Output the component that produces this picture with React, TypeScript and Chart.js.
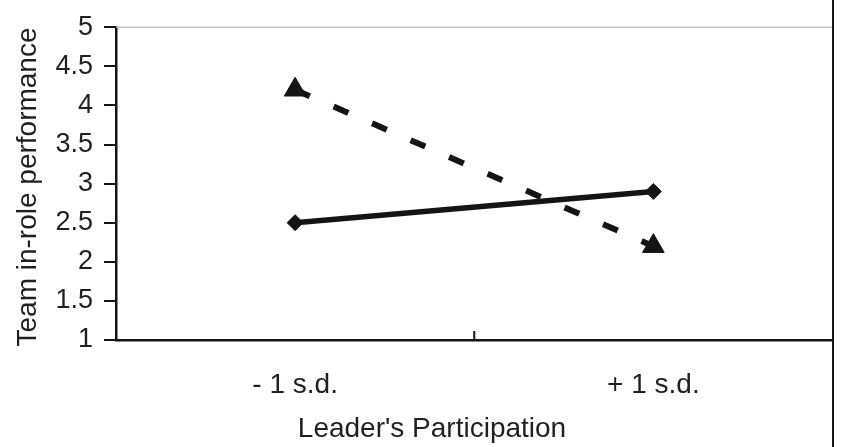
import React, { useEffect, useRef } from "react";
import { Chart, registerables } from "chart.js";

Chart.register(...registerables);

const categories = ["- 1 s.d.", "+ 1 s.d."];
const solidSeries = [2.5, 2.9];
const dashedSeries = [4.2, 2.2];
const yTicks = [1, 1.5, 2, 2.5, 3, 3.5, 4, 4.5, 5];
const xTitle = "Leader's Participation";
const yTitle = "Team in-role performance";

const FONT = "'Liberation Sans', Arial, Helvetica, sans-serif";
const TEXT = "#231f20";
const INK = "#141414";

const framePlugin = {
  id: "frame",
  beforeDatasetsDraw(chart: any) {
    const { ctx, chartArea } = chart;
    ctx.save();
    ctx.strokeStyle = "#c4c4c4";
    ctx.lineWidth = 1.5;
    ctx.beginPath();
    ctx.moveTo(chartArea.left, chartArea.top);
    ctx.lineTo(chartArea.right, chartArea.top);
    ctx.stroke();
    ctx.restore();
  },
  afterDraw(chart: any) {
    const { ctx, chartArea, scales } = chart;
    const xs = scales.x;
    ctx.save();
    // right frame line
    ctx.strokeStyle = INK;
    ctx.lineWidth = 2;
    ctx.beginPath();
    ctx.moveTo(chartArea.right + 0.5, 0);
    ctx.lineTo(chartArea.right + 0.5, chart.height);
    ctx.stroke();
    // middle category tick (inside)
    const mid = (xs.getPixelForValue(0) + xs.getPixelForValue(1)) / 2;
    ctx.lineWidth = 2;
    ctx.beginPath();
    ctx.moveTo(mid, chartArea.bottom);
    ctx.lineTo(mid, chartArea.bottom - 9);
    ctx.stroke();
    // titles
    ctx.fillStyle = TEXT;
    ctx.font = `28px ${FONT}`;
    ctx.textAlign = "center";
    ctx.textBaseline = "alphabetic";
    ctx.fillText(xTitle, 432, 437);
    ctx.translate(36, 187);
    ctx.rotate(-Math.PI / 2);
    ctx.fillText(yTitle, 0, 0);
    ctx.restore();
  },
};

export default function App() {
  const ref = useRef<HTMLCanvasElement | null>(null);

  useEffect(() => {
    document.body.style.margin = "0";
    const canvas = ref.current;
    if (!canvas) return;
    const chart = new Chart(canvas, {
      type: "line",
      data: {
        labels: categories,
        datasets: [
          {
            data: solidSeries,
            borderColor: INK,
            backgroundColor: INK,
            borderWidth: 5.5,
            pointStyle: "rectRot",
            pointRadius: 8,
            pointBorderWidth: 1,
            pointBackgroundColor: INK,
            pointBorderColor: INK,
            fill: false,
            tension: 0,
          },
          {
            data: dashedSeries,
            borderColor: INK,
            backgroundColor: INK,
            borderWidth: 6,
            borderDash: [16, 26],
            pointStyle: "triangle",
            pointRadius: 12.5,
            pointBorderWidth: 1,
            pointBackgroundColor: INK,
            pointBorderColor: INK,
            fill: false,
            tension: 0,
          },
        ],
      },
      options: {
        responsive: false,
        animation: false,
        devicePixelRatio: 1,
        layout: { padding: { top: 17, right: 2, left: 0, bottom: 0 } },
        plugins: {
          legend: { display: false },
          tooltip: { enabled: false },
          title: { display: false },
        },
        scales: {
          x: {
            type: "category",
            offset: true,
            grid: { display: false, drawTicks: false },
            border: { display: true, color: INK, width: 2.5 },
            ticks: {
              color: TEXT,
              font: { family: FONT, size: 28 },
              padding: 28,
              maxRotation: 0,
            },
            afterFit(scale: any) {
              scale.height = 107;
            },
          },
          y: {
            min: 1,
            max: 5,
            afterBuildTicks(scale: any) {
              scale.ticks = yTicks.map((v) => ({ value: v }));
            },
            ticks: {
              color: TEXT,
              font: { family: FONT, size: 27 },
              padding: 11,
              callback: (v: any) => String(v),
            },
            grid: {
              drawOnChartArea: false,
              drawTicks: true,
              tickLength: 12,
              color: INK,
              lineWidth: 2,
            },
            border: { display: true, color: INK, width: 2.5 },
            afterFit(scale: any) {
              scale.width = 116;
            },
          },
        },
      },
      plugins: [framePlugin],
    });
    return () => chart.destroy();
  }, []);

  return (
    <div style={{ width: 846, height: 447, position: "relative" }}>
      <canvas ref={ref} width={846} height={447} style={{ display: "block", width: 846, height: 447 }} />
    </div>
  );
}
